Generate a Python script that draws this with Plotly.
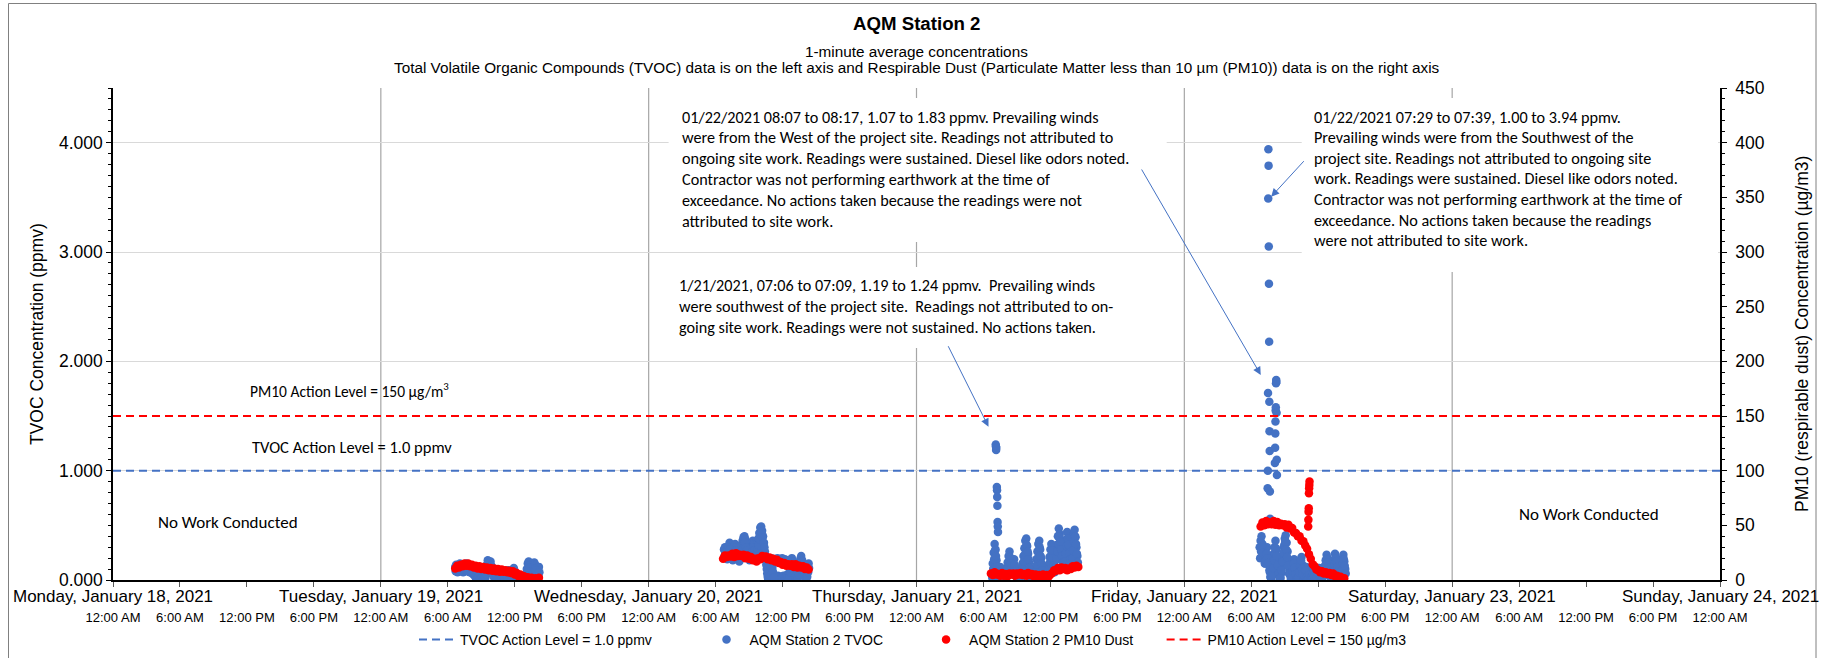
import pandas as pd
import plotly.graph_objects as go

# ---------------- data ----------------
x_start = "2021-01-18 00:00"
x_end = "2021-01-24 00:00"
day_labels = ["Monday, January 18, 2021", "Tuesday, January 19, 2021", "Wednesday, January 20, 2021",
              "Thursday, January 21, 2021", "Friday, January 22, 2021", "Saturday, January 23, 2021",
              "Sunday, January 24, 2021"]
time_labels = ["12:00 AM", "6:00 AM", "12:00 PM", "6:00 PM"]

tvoc_action_level = 1.0     # ppmv
pm10_action_level = 150     # ug/m3

TVOC_STEP = "5min"
PM10_STEP = "10min"

# TVOC readings (ppmv): main readings every 5 min, plus the interleaved readings 2.5 min later
tvoc_jan19_start = "2021-01-19 06:40"
tvoc_jan19 = [0.12, 0.14, 0.13, 0.10, 0.12, 0.15, 0.13, 0.11, 0.09, 0.12, 0.14, 0.13, 0.15, 0.12, 0.10, 0.11, 0.13, 0.12, 0.09, 0.08, 0.10,
              0.07, 0.05, 0.03, 0.01, 0.04, 0.06, 0.02, 0.00, 0.03, 0.05, 0.08, 0.06,
              0.10, 0.14, 0.18, 0.16, 0.12, 0.17, 0.13, 0.09, 0.06, 0.03,
              0.01, 0.04, 0.07, 0.05, 0.02, 0.00, 0.03, 0.06, 0.08, 0.05, 0.02, 0.01, 0.04, 0.07, 0.09, 0.06, 0.03, 0.01,
              0.05, 0.09, 0.11, 0.08, 0.04, 0.02, 0.05, 0.03, 0.01, 0.00,
              0.00, 0.02, 0.01, 0.00, 0.02,
              0.05, 0.10, 0.15, 0.17, 0.13, 0.08, 0.03, 0.06, 0.12, 0.16, 0.14, 0.09, 0.05, 0.08, 0.12]
tvoc_jan19_b_start = "2021-01-19 06:42:30"
tvoc_jan19_b = [0.08, 0.09, 0.07, 0.10, 0.08, 0.09, 0.11, 0.08, 0.07, 0.09, 0.10, 0.08, 0.09, 0.11, 0.08, 0.07, 0.09, 0.08, 0.06, 0.05, 0.06,
                0.03, 0.01, 0.00, 0.02, 0.00, 0.01, 0.00, 0.02, 0.00, 0.01, 0.03, 0.02,
                0.05, 0.08, 0.11, 0.09, 0.07, 0.10, 0.08, 0.05, 0.03, 0.01,
                0.00, 0.02, 0.03, 0.01, 0.00, 0.01, 0.00, 0.02, 0.04, 0.02, 0.00, 0.00, 0.02, 0.03, 0.05, 0.03, 0.01, 0.00,
                0.02, 0.05, 0.07, 0.04, 0.02, 0.00, 0.02, 0.01, 0.00, 0.00,
                0.00, 0.01, 0.00, 0.00, 0.01,
                0.02, 0.05, 0.09, 0.11, 0.08, 0.04, 0.01, 0.03, 0.07, 0.10, 0.09, 0.05, 0.02, 0.04, 0.07]

tvoc_jan20_start = "2021-01-20 06:45"
tvoc_jan20 = [0.28, 0.30, 0.26, 0.24, 0.27, 0.31, 0.34, 0.30, 0.26, 0.22, 0.25, 0.29, 0.33, 0.30, 0.27, 0.23, 0.20, 0.24, 0.28, 0.32,
              0.36, 0.39, 0.40, 0.37, 0.33, 0.29, 0.25, 0.21, 0.24, 0.28, 0.32, 0.36, 0.33, 0.29, 0.25, 0.30, 0.34, 0.38,
              0.43, 0.48, 0.49, 0.45, 0.40,
              0.34, 0.26, 0.18, 0.10, 0.03,
              0.02, 0.08, 0.15, 0.20, 0.12, 0.05,
              0.01, 0.03, 0.00, 0.02, 0.04, 0.01, 0.00, 0.03, 0.02, 0.01, 0.04, 0.02, 0.00, 0.03, 0.05,
              0.02, 0.06, 0.11, 0.16, 0.20, 0.17, 0.12, 0.07, 0.03, 0.00, 0.04, 0.09, 0.14, 0.19, 0.22, 0.18, 0.13, 0.08,
              0.04, 0.01, 0.05, 0.10, 0.15]
tvoc_jan20_b_start = "2021-01-20 06:47:30"
tvoc_jan20_b = [0.22, 0.25, 0.21, 0.19, 0.22, 0.25, 0.28, 0.24, 0.21, 0.18, 0.20, 0.23, 0.27, 0.24, 0.22, 0.19, 0.17, 0.19, 0.22, 0.26,
                0.29, 0.33, 0.34, 0.30, 0.27, 0.23, 0.20, 0.18, 0.19, 0.22, 0.26, 0.30, 0.27, 0.23, 0.20, 0.24, 0.28, 0.32,
                0.37, 0.42, 0.44, 0.39, 0.34,
                0.30, 0.22, 0.14, 0.06, 0.01,
                0.00, 0.04, 0.11, 0.17, 0.08, 0.02,
                0.17, 0.19, 0.18, 0.20, 0.16, 0.18, 0.19, 0.17, 0.20, 0.18, 0.16, 0.19, 0.17, 0.15, 0.18,
                0.00, 0.03, 0.07, 0.12, 0.15, 0.12, 0.08, 0.04, 0.01, 0.00, 0.02, 0.05, 0.10, 0.15, 0.17, 0.14, 0.09, 0.05,
                0.02, 0.00, 0.03, 0.07, 0.11]

tvoc_jan21_start = "2021-01-21 06:45"
tvoc_jan21 = [0.05, 0.15, 0.25, 0.33, 0.28, 0.18, 0.08,
              0.02, 0.06, 0.12, 0.08, 0.03, 0.00, 0.05, 0.10, 0.06,
              0.10, 0.16, 0.22, 0.26, 0.20, 0.14, 0.08, 0.13, 0.19,
              0.12, 0.06, 0.02, 0.05, 0.10, 0.07, 0.03,
              0.08, 0.15, 0.22, 0.29, 0.36, 0.38, 0.31, 0.24, 0.16, 0.09,
              0.03, 0.00, 0.04, 0.08, 0.05,
              0.12, 0.19, 0.26, 0.33, 0.36, 0.28, 0.20, 0.13,
              0.07, 0.10, 0.05, 0.02, 0.06, 0.09,
              0.14, 0.21, 0.28, 0.33, 0.26, 0.18, 0.11,
              0.18, 0.25, 0.32, 0.40, 0.47, 0.42, 0.35, 0.28, 0.22, 0.17, 0.23, 0.30, 0.37, 0.44, 0.38, 0.31, 0.25,
              0.19, 0.26, 0.34, 0.41, 0.46, 0.39, 0.30, 0.22]
tvoc_jan21_b_start = "2021-01-21 06:47:30"
tvoc_jan21_b = [0.02, 0.10, 0.19, 0.27, 0.22, 0.12, 0.04,
                0.00, 0.03, 0.08, 0.05, 0.01, 0.00, 0.02, 0.06, 0.03,
                0.06, 0.11, 0.17, 0.21, 0.15, 0.10, 0.05, 0.09, 0.14,
                0.08, 0.03, 0.00, 0.02, 0.06, 0.04, 0.01,
                0.05, 0.10, 0.17, 0.23, 0.30, 0.32, 0.26, 0.19, 0.11, 0.05,
                0.01, 0.00, 0.02, 0.05, 0.03,
                0.08, 0.14, 0.20, 0.27, 0.30, 0.22, 0.15, 0.09,
                0.04, 0.06, 0.02, 0.00, 0.03, 0.05,
                0.10, 0.16, 0.22, 0.27, 0.20, 0.13, 0.07,
                0.12, 0.19, 0.26, 0.33, 0.40, 0.35, 0.28, 0.22, 0.16, 0.12, 0.17, 0.24, 0.31, 0.38, 0.32, 0.25, 0.19,
                0.13, 0.20, 0.27, 0.35, 0.40, 0.33, 0.24, 0.16]
tvoc_jan21_spike_times = ["07:06", "07:07", "07:08", "07:09", "07:12", "07:13", "07:14", "07:15", "07:16", "07:17", "07:18"]
tvoc_jan21_spike = [1.24, 1.22, 1.19, 1.21, 0.85, 0.82, 0.76, 0.68, 0.53, 0.49, 0.44]

tvoc_jan22_start = "2021-01-22 06:45"
tvoc_jan22 = [0.30, 0.36, 0.40, 0.33, 0.26, 0.20, 0.15, 0.22, 0.30,
              0.22, 0.14, 0.07, 0.02, 0.08, 0.16, 0.24,
              0.30, 0.36, 0.28, 0.18, 0.10, 0.04,
              0.00, 0.06, 0.14, 0.22, 0.30, 0.38, 0.41, 0.34, 0.26, 0.18,
              0.10, 0.04, 0.00, 0.05, 0.12, 0.19, 0.15, 0.09, 0.03, 0.00,
              0.04, 0.10, 0.16, 0.21, 0.14, 0.08, 0.02, 0.06, 0.12, 0.05,
              0.00, 0.03, 0.07, 0.04, 0.01, 0.05, 0.09, 0.06, 0.02, 0.00, 0.04, 0.08, 0.11, 0.07, 0.03, 0.01, 0.05, 0.09,
              0.13, 0.18, 0.23, 0.20, 0.15, 0.10, 0.05, 0.01, 0.06, 0.12, 0.18, 0.24, 0.21, 0.16, 0.11, 0.06, 0.02,
              0.07, 0.13, 0.19, 0.23, 0.17, 0.10]
tvoc_jan22_b_start = "2021-01-22 06:47:30"
tvoc_jan22_b = [0.20, 0.26, 0.31, 0.25, 0.19, 0.15, 0.18, 0.24, 0.20,
                0.16, 0.09, 0.03, 0.00, 0.04, 0.11, 0.18,
                0.24, 0.29, 0.22, 0.13, 0.06, 0.01,
                0.02, 0.09, 0.17, 0.25, 0.32, 0.35, 0.28, 0.21, 0.13, 0.06,
                0.06, 0.01, 0.02, 0.08, 0.15, 0.11, 0.05, 0.01, 0.00, 0.02,
                0.07, 0.13, 0.18, 0.10, 0.05, 0.00, 0.03, 0.09, 0.02, 0.00,
                0.01, 0.05, 0.02, 0.00, 0.03, 0.06, 0.04, 0.00, 0.01, 0.02, 0.06, 0.09, 0.05, 0.01, 0.00, 0.03, 0.07, 0.04,
                0.09, 0.14, 0.19, 0.16, 0.11, 0.07, 0.02, 0.00, 0.03, 0.08, 0.14, 0.20, 0.17, 0.12, 0.08, 0.03, 0.00,
                0.04, 0.09, 0.15, 0.19, 0.13, 0.06]
tvoc_jan22_spike_times = ["07:28", "07:29", "07:30", "07:31", "07:32", "07:33", "07:34", "07:35", "07:36", "07:37",
                          "07:38", "07:39", "07:40", "07:41",
                          "08:07", "08:08", "08:09", "08:10", "08:11", "08:12", "08:13", "08:14", "08:15", "08:16",
                          "08:17", "08:18"]
tvoc_jan22_spike = [0.84, 1.00, 1.71, 3.49, 3.94, 3.79, 3.05, 2.71, 2.18, 1.63, 1.36, 1.18, 0.81, 0.56,
                    1.07, 1.21, 1.34, 1.45, 1.55, 1.58, 1.80, 1.83, 1.81, 1.53, 1.10, 0.96]

# PM10 readings (ug/m3), every 10 min
pm10_jan19_start = "2021-01-19 06:40"
pm10_jan19 = [10.5, 13, 11.5, 14, 12.5, 15, 13, 15, 12.5, 14, 11.5, 13, 10.5, 12.5, 10, 12, 9.5, 11.5, 9, 11,
              8.5, 10.5, 8, 10, 7.5, 9.5, 7.5, 9, 7, 8.5, 6.5, 8, 5, 6.5, 3.5, 5, 2.5, 3.5, 1, 2.5,
              0.5, 2, 0.5, 1.5, 0.5, 2]
pm10_jan20_start = "2021-01-20 06:40"
pm10_jan20 = [19.5, 22.5, 21, 22.5, 21.5, 24, 21, 24.5, 22, 23, 22, 23, 20, 22.5, 19.5, 21, 18, 19.5, 17, 20,
              19, 22, 20.5, 21.5, 19, 20.5, 18, 19.5, 17, 18.5, 15.5, 16.5, 14, 15.5, 13, 14.5, 13, 14.5, 12, 14.5,
              11.5, 13, 11.5, 12.5, 10, 11.5, 9.5]
pm10_jan21_start = "2021-01-21 06:40"
pm10_jan21 = [6, 4.5, 7, 5, 5.5, 4, 6.5, 4, 5.5, 3.5, 6, 5, 6, 4, 6, 5, 6.5, 4.5, 5.5, 4,
              6.5, 4.5, 5.5, 3.5, 5, 3, 4.5, 3, 5, 2.5, 4.5, 3, 5, 6.5, 9, 8.5, 11, 9, 11.5, 10,
              11, 9, 10.5, 10, 12.5, 11.5, 13, 12]
pm10_jan22_start = "2021-01-22 06:50"
pm10_jan22 = [49, 52.5, 50, 54, 51, 52.5, 51, 54, 50.5, 53, 50, 51.5, 50, 51, 48, 50.5, 47, 47.5, 43.5, 43,
              40, 40, 36, 35.5, 31.5, 28.5, 23.5, 19.5, 14.5, 12.5, 9.5, 9, 7, 8, 6, 7, 5.5, 6.5, 4.5, 6,
              3.5, 4, 2, 3, 1, 1.5]
pm10_jan22_spike_times = ["11:06", "11:07", "11:08", "11:09", "11:10", "11:11", "11:12", "11:13"]
pm10_jan22_spike = [49, 55, 62.5, 65.6, 79.3, 84, 87, 90]

legend_names = ["TVOC Action Level = 1.0 ppmv", "AQM Station 2 TVOC", "AQM Station 2 PM10 Dust",
                "PM10 Action Level = 150 \u00b5g/m3"]

# ---------------- build series ----------------
def series(start, vals, step):
    return list(pd.date_range(start, periods=len(vals), freq=step)), list(vals)

def spikes(day, times, vals):
    return [pd.Timestamp(f"{day} {t}") for t in times], list(vals)

tx, ty = [], []
for s, v in [(tvoc_jan19_start, tvoc_jan19), (tvoc_jan19_b_start, tvoc_jan19_b),
             (tvoc_jan20_start, tvoc_jan20), (tvoc_jan20_b_start, tvoc_jan20_b),
             (tvoc_jan21_start, tvoc_jan21), (tvoc_jan21_b_start, tvoc_jan21_b),
             (tvoc_jan22_start, tvoc_jan22), (tvoc_jan22_b_start, tvoc_jan22_b)]:
    a, b = series(s, v, TVOC_STEP); tx += a; ty += b
for d, t, v in [("2021-01-21", tvoc_jan21_spike_times, tvoc_jan21_spike),
                ("2021-01-22", tvoc_jan22_spike_times, tvoc_jan22_spike)]:
    a, b = spikes(d, t, v); tx += a; ty += b

px_, py_ = [], []
for s, v in [(pm10_jan19_start, pm10_jan19), (pm10_jan20_start, pm10_jan20),
             (pm10_jan21_start, pm10_jan21), (pm10_jan22_start, pm10_jan22)]:
    a, b = series(s, v, PM10_STEP); px_ += a; py_ += b
a, b = spikes("2021-01-22", pm10_jan22_spike_times, pm10_jan22_spike); px_ += a; py_ += b

# ---------------- layout helpers ----------------
W, H = 1829, 658
ML, MR, MT, MB = 113, 109, 88, 78
PW = W - ML - MR
PH = H - MT - MB

def pxp(x):
    return (x - ML) / PW

def pyp(y):
    return (H - MB - y) / PH

BLUE = "#4472C4"
RED = "#FF0000"
ARIAL = "Liberation Sans, Arial, sans-serif"
CALI = "Carlito, Calibri, Lato, sans-serif"
MS = 8.5
NB = "\u00a0"
legend_pad = [12, 9, 6, 0]   # trailing spacing after each legend entry (Excel-like entry gaps)
lname = [n + NB * p for n, p in zip(legend_names, legend_pad)]

fig = go.Figure()
fig.add_trace(go.Scatter(x=[x_start, x_end], y=[tvoc_action_level] * 2, mode="lines", name=lname[0],
                         line=dict(color=BLUE, width=2, dash="8px,5px")))
fig.add_trace(go.Scatter(x=tx, y=ty, mode="markers", name=lname[1],
                         marker=dict(color=BLUE, size=MS, line=dict(width=0))))
fig.add_trace(go.Scatter(x=px_, y=py_, mode="markers", name=lname[2], yaxis="y2",
                         marker=dict(color=RED, size=MS, line=dict(width=0))))
fig.add_trace(go.Scatter(x=[x_start, x_end], y=[pm10_action_level] * 2, mode="lines", yaxis="y2",
                         name=lname[3], line=dict(color=RED, width=2, dash="8px,5px")))

tick_dates = pd.date_range(x_start, x_end, freq="6h")
tick_text = [time_labels[i % 4] for i in range(len(tick_dates))]
midnights = pd.date_range(x_start, x_end, freq="1D")

shapes = []
for m in midnights[1:-1]:
    shapes.append(dict(type="line", xref="x", yref="paper", x0=m, x1=m, y0=0, y1=1,
                       line=dict(color="#A6A6A6", width=1.2), layer="below"))
# white text boxes
for (x0, x1, y0, y1) in [(668.6, 1166.7, 98, 242), (668.6, 1166.7, 267, 348), (1301.7, 1718, 98, 272)]:
    shapes.append(dict(type="rect", xref="paper", yref="paper", x0=pxp(x0), x1=pxp(x1), y0=pyp(y1), y1=pyp(y0),
                       fillcolor="white", line=dict(width=0), layer="above"))
# outer border
shapes.append(dict(type="rect", xref="paper", yref="paper", x0=pxp(8.5), x1=pxp(1816), y0=pyp(662), y1=pyp(3.5),
                   line=dict(color="#808080", width=1), fillcolor="rgba(0,0,0,0)", layer="above"))

ann = []

def txt(text, x, y, size, family=ARIAL, xa="center", ya="middle", **kw):
    ann.append(dict(text=text, x=x, y=y, xref="paper", yref="paper", xanchor=xa, yanchor=ya,
                    showarrow=False, font=dict(family=family, size=size, color="black"), **kw))

txt("<b>AQM Station 2</b>", 0.5, pyp(24), 18.67)
txt("1-minute average concentrations", 0.5, pyp(51), 15.3)
txt("Total Volatile Organic Compounds (TVOC) data is on the left axis and Respirable Dust "
    "(Particulate Matter less than 10 \u00b5m (PM10)) data is on the right axis", 0.5, pyp(68), 15.3)
txt("TVOC Concentration (ppmv)", pxp(37), 0.5, 17.5, textangle=-90)
txt("PM10 (respirable dust) Concentration (\u00b5g/m3)", pxp(1802), 0.5, 17.5, textangle=-90)
for d, lab in zip(midnights, day_labels):
    ann.append(dict(text=lab, x=d, y=pyp(596), xref="x", yref="paper", showarrow=False,
                    xanchor="center", yanchor="middle", font=dict(family=ARIAL, size=17, color="black")))

txt("PM10 Action Level = 150 \u00b5g/m<sup>3</sup>", pxp(248), pyp(390), 15.5, CALI, xa="left")
txt("TVOC Action Level = 1.0 ppmv", pxp(250), pyp(447), 16.5, CALI, xa="left")
txt("No Work Conducted", pxp(227.5), pyp(522.6), 17, CALI)
txt("No Work Conducted", pxp(1589), pyp(514.4), 17, CALI)

box1 = ["01/22/2021 08:07 to 08:17, 1.07 to 1.83 ppmv. Prevailing winds",
        "were from the West of the project site. Readings not attributed to",
        "ongoing site work. Readings were sustained. Diesel like odors noted.",
        "Contractor was not performing earthwork at the time of",
        "exceedance. No actions taken because the readings were not",
        "attributed to site work."]
box2 = ["01/22/2021 07:29 to 07:39, 1.00 to 3.94 ppmv.",
        "Prevailing winds were from the Southwest of the",
        "project site. Readings not attributed to ongoing site",
        "work. Readings were sustained. Diesel like odors noted.",
        "Contractor was not performing earthwork at the time of",
        "exceedance. No actions taken because the readings",
        "were not attributed to site work."]
box3 = ["1/21/2021, 07:06 to 07:09, 1.19 to 1.24 ppmv.\u00a0 Prevailing winds",
        "were southwest of the project site.\u00a0 Readings not attributed to on-",
        "going site work. Readings were not sustained. No actions taken."]
for lines, x, y0, dy in [(box1, 680, 117, 20.8), (box2, 1312, 117, 20.6), (box3, 677, 285, 21.2)]:
    for i, line in enumerate(lines):
        txt(line, pxp(x), pyp(y0 + i * dy), 16.2, CALI, xa="left")

for hx, hy, ax, ay in [("2021-01-22 06:51", 1.875, -120, -207),
                       ("2021-01-22 07:47", 3.506, 34, -37),
                       ("2021-01-21 06:27", 1.402, -41, -82)]:
    ann.append(dict(text="", x=hx, y=hy, xref="x", yref="y", ax=ax, ay=ay, showarrow=True,
                    arrowhead=2, arrowsize=1.6, arrowwidth=1, arrowcolor=BLUE, standoff=0))

fig.update_layout(
    width=W, height=H,
    margin=dict(l=ML, r=MR, t=MT, b=MB, autoexpand=False),
    paper_bgcolor="white", plot_bgcolor="white",
    showlegend=True,
    legend=dict(orientation="h", x=pxp(414), xanchor="left", yref="container", y=1 - 640 / H, yanchor="middle",
                itemwidth=36,
                font=dict(family=ARIAL, size=14, color="black"), bgcolor="rgba(0,0,0,0)"),
    xaxis=dict(type="date", range=[x_start, x_end], tickvals=list(tick_dates), ticktext=tick_text,
               ticks="outside", ticklen=5, tickcolor="#595959", showline=True, linecolor="black", linewidth=1.5,
               showgrid=False, zeroline=False, ticklabelstandoff=20, automargin=False,
               tickfont=dict(family=ARIAL, size=13, color="black")),
    yaxis=dict(range=[0, 4.5], tickvals=[0, 1, 2, 3, 4], tickformat=".3f", ticks="outside", ticklen=5,
               tickcolor="black", showline=True, linecolor="black", linewidth=1.5, automargin=False,
               showgrid=True, gridcolor="#D9D9D9", gridwidth=1.2, zeroline=False,
               minor=dict(dtick=0.1, ticks="outside", ticklen=3, tickcolor="black", showgrid=False),
               tickfont=dict(family=ARIAL, size=17.5, color="black")),
    yaxis2=dict(range=[0, 450], dtick=50, overlaying="y", side="right", ticks="outside", ticklen=5,
                tickcolor="black", showline=True, linecolor="black", linewidth=1.5, showgrid=False,
                zeroline=False, automargin=False, ticklabelstandoff=5,
                minor=dict(dtick=10, ticks="outside", ticklen=3, tickcolor="black", showgrid=False),
                tickfont=dict(family=ARIAL, size=17.5, color="black")),
    shapes=shapes, annotations=ann,
)

fig.write_html("out.html", config={"displayModeBar": False},
               post_script="document.body.style.margin='0';")
